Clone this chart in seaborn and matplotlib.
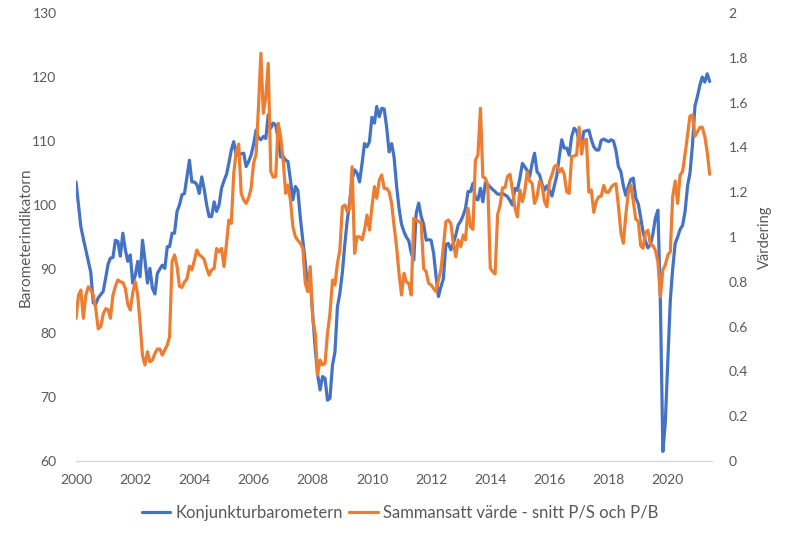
import pandas as pd
import numpy as np
import matplotlib
matplotlib.use('Agg')
import matplotlib.pyplot as plt
import matplotlib.dates as mdates
from matplotlib.lines import Line2D
import seaborn as sns

# monthly data, Jan 2000 -> Jun 2021
start = '2000-01-01'

barometer = [
    103.6, 100.0, 96.6, 94.7, 93.0, 91.3, 89.5, 84.7, 84.5, 85.5,
    86.0, 86.5, 88.6, 90.8, 91.7, 91.8, 94.5, 94.3, 92.0, 95.6,
    93.0, 91.2, 92.2, 87.8, 89.0, 91.2, 88.8, 94.5, 91.4, 87.8,
    90.1, 87.0, 86.1, 89.3, 90.0, 90.6, 90.1, 93.5, 93.5, 95.6,
    95.6, 99.0, 100.0, 101.6, 101.8, 104.4, 107.0, 103.6, 103.6, 103.2,
    101.8, 104.4, 102.5, 100.0, 98.2, 98.2, 100.5, 99.0, 100.0, 102.6,
    103.8, 104.8, 106.5, 108.6, 109.9, 107.8, 107.8, 108.0, 108.1, 106.0,
    106.8, 107.8, 109.5, 111.7, 110.5, 110.2, 110.7, 110.4, 114.1, 112.0,
    112.8, 112.5, 110.2, 107.5, 107.6, 107.0, 106.8, 103.9, 100.8, 102.9,
    102.3, 98.0, 94.5, 91.0, 86.7, 88.3, 83.0, 77.5, 73.5, 71.1,
    73.2, 72.9, 69.5, 69.8, 75.0, 77.0, 84.1, 86.2, 89.5, 94.0,
    97.5, 100.5, 104.0, 105.5, 105.0, 103.6, 106.5, 109.6, 109.1, 109.9,
    113.7, 112.8, 115.4, 113.8, 115.1, 115.0, 112.2, 108.3, 109.6, 107.5,
    103.0, 99.5, 97.0, 95.8, 95.0, 94.4, 92.5, 91.4, 98.7, 100.3,
    98.2, 97.0, 94.5, 94.6, 94.5, 92.5, 89.0, 85.7, 87.2, 88.5,
    93.8, 94.0, 93.0, 94.0, 95.3, 96.9, 97.5, 98.4, 99.5, 102.1,
    102.1, 103.4, 101.0, 100.8, 102.6, 100.5, 103.5, 103.2, 102.8, 102.4,
    102.1, 101.7, 101.7, 101.8, 101.6, 101.3, 100.7, 100.0, 102.6, 102.3,
    104.2, 106.5, 106.0, 105.4, 104.4, 106.5, 108.1, 105.2, 104.7, 103.3,
    102.3, 103.0, 102.3, 101.4, 103.0, 104.6, 107.5, 110.2, 108.9, 108.9,
    107.8, 110.7, 112.0, 111.6, 110.0, 109.5, 111.5, 111.6, 111.7, 110.2,
    109.1, 108.6, 108.6, 110.1, 110.3, 110.1, 109.9, 110.2, 110.0, 108.5,
    106.0, 105.2, 103.0, 101.5, 102.9, 104.0, 104.2, 101.1, 100.2, 98.0,
    95.8, 94.3, 93.3, 93.8, 95.5, 98.0, 99.2, 85.0, 61.5, 66.0,
    75.5, 85.2, 90.0, 94.0, 95.0, 96.2, 96.8, 99.0, 103.0, 105.0,
    109.5, 115.5, 117.0, 118.8, 120.0, 119.2, 120.5, 119.3,
]

vardering = [
    0.637, 0.741, 0.763, 0.637, 0.74, 0.778, 0.765, 0.74, 0.68, 0.59,
    0.60, 0.655, 0.68, 0.675, 0.637, 0.74, 0.78, 0.808, 0.80, 0.797,
    0.77, 0.70, 0.674, 0.75, 0.80, 0.74, 0.62, 0.47, 0.429, 0.488,
    0.443, 0.451, 0.48, 0.50, 0.50, 0.473, 0.496, 0.518, 0.555, 0.89,
    0.92, 0.87, 0.78, 0.775, 0.80, 0.812, 0.87, 0.853, 0.895, 0.942,
    0.92, 0.912, 0.90, 0.86, 0.83, 0.853, 0.86, 0.949, 0.934, 0.949,
    0.868, 0.972, 1.076, 1.061, 1.284, 1.381, 1.415, 1.195, 1.165, 1.15,
    1.175, 1.217, 1.329, 1.37, 1.57, 1.82, 1.552, 1.626, 1.775, 1.292,
    1.267, 1.27, 1.508, 1.448, 1.344, 1.195, 1.232, 1.165, 1.046, 1.001,
    0.985, 0.972, 0.949, 0.793, 0.756, 0.868, 0.629, 0.57, 0.384, 0.451,
    0.429, 0.436, 0.57, 0.659, 0.808, 0.786, 0.882, 0.942, 1.135, 1.143,
    1.113, 1.128, 1.314, 0.927, 1.001, 1.001, 0.987, 1.031, 1.098, 1.031,
    1.135, 1.225, 1.173, 1.254, 1.277, 1.217, 1.217, 1.202, 1.15, 1.05,
    0.957, 0.838, 0.741, 0.838, 0.80, 0.793, 0.741, 1.083, 1.076, 1.07,
    1.061, 0.86, 0.845, 0.793, 0.786, 0.77, 0.756, 0.808, 0.853, 0.957,
    1.068, 1.076, 1.061, 0.972, 0.912, 0.987, 0.957, 1.009, 0.987, 1.128,
    1.046, 1.034, 1.344, 1.366, 1.575, 1.269, 1.262, 1.232, 0.86, 0.845,
    0.835, 1.10, 1.14, 1.22, 1.22, 1.27, 1.28, 1.21, 1.13, 1.09,
    1.21, 1.158, 1.20, 1.29, 1.25, 1.24, 1.15, 1.18, 1.25, 1.23,
    1.158, 1.135, 1.247, 1.277, 1.314, 1.321, 1.29, 1.306, 1.28, 1.202,
    1.195, 1.359, 1.362, 1.366, 1.49, 1.37, 1.43, 1.437, 1.20, 1.21,
    1.11, 1.16, 1.18, 1.183, 1.23, 1.20, 1.20, 1.222, 1.233, 1.238,
    1.14, 1.02, 0.972, 1.10, 1.20, 1.23, 1.16, 1.08, 1.07, 0.96,
    0.95, 1.02, 1.03, 0.964, 0.962, 0.94, 0.89, 0.733, 0.853, 0.875,
    0.92, 0.934, 1.18, 1.25, 1.15, 1.277, 1.292, 1.37, 1.455, 1.54,
    1.545, 1.45, 1.47, 1.49, 1.49, 1.45, 1.38, 1.28,
]

left_ticks = [60, 70, 80, 90, 100, 110, 120, 130]
right_ticks = [0, 0.2, 0.4, 0.6, 0.8, 1, 1.2, 1.4, 1.6, 1.8, 2]
right_labels = ['0', '0.2', '0.4', '0.6', '0.8', '1', '1.2', '1.4', '1.6', '1.8', '2']
year_ticks = list(range(2000, 2021, 2))

name_baro = 'Konjunkturbarometern'
name_val = 'Sammansatt värde - snitt P/S och P/B'

df = pd.DataFrame({
    'datum': pd.date_range(start, periods=len(barometer), freq='MS'),
    'baro': barometer,
    'vard': vardering,
})

blue = '#4472C4'
orange = '#ED7D31'
grey = '#595959'

sns.set_style('white')
plt.rcParams['font.family'] = ['Lato', 'DejaVu Sans']

fig = plt.figure(figsize=(7.86, 5.36), dpi=100)
ax = fig.add_axes([0.0967, 0.1399, 0.8088, 0.8358])
ax2 = ax.twinx()

sns.lineplot(data=df, x='datum', y='baro', ax=ax, color=blue, linewidth=2.3)
sns.lineplot(data=df, x='datum', y='vard', ax=ax2, color=orange, linewidth=2.3)

ax.set_ylim(60, 130)
ax2.set_ylim(0, 2)
ax.set_yticks(left_ticks)
ax2.set_yticks(right_ticks)
ax2.set_yticklabels(right_labels)

ax.set_xlim(df['datum'].iloc[0], df['datum'].iloc[-1] + pd.Timedelta(days=25))
ax.set_xticks([pd.Timestamp(f'{y}-01-01') for y in year_ticks])
ax.xaxis.set_major_formatter(mdates.DateFormatter('%Y'))

for a in (ax, ax2):
    for s in a.spines.values():
        s.set_visible(False)
    a.tick_params(length=0, labelsize=10, colors=grey)
ax.spines['bottom'].set_visible(True)
ax.spines['bottom'].set_color('#D9D9D9')
ax.spines['bottom'].set_linewidth(1.0)

ax.tick_params(axis='y', pad=14)
ax.tick_params(axis='x', pad=9)
ax2.tick_params(axis='y', pad=12)

ax.set_xlabel('')
ax.set_ylabel('Barometerindikatorn', fontsize=11, color=grey)
ax2.set_ylabel('Värdering', fontsize=10.5, color=grey)
ax.yaxis.set_label_coords(-0.068, 0.5)
ax2.yaxis.set_label_coords(1.072, 0.5)

handles = [Line2D([0], [0], color=blue, lw=2.3),
           Line2D([0], [0], color=orange, lw=2.3)]
fig.legend(handles, [name_baro, name_val], loc='center', bbox_to_anchor=(0.509, 0.043),
           ncol=2, frameon=False, fontsize=12, handlelength=1.7, handletextpad=0.3,
           columnspacing=0.4, labelcolor=grey)

plt.savefig('out.png', dpi=100)
